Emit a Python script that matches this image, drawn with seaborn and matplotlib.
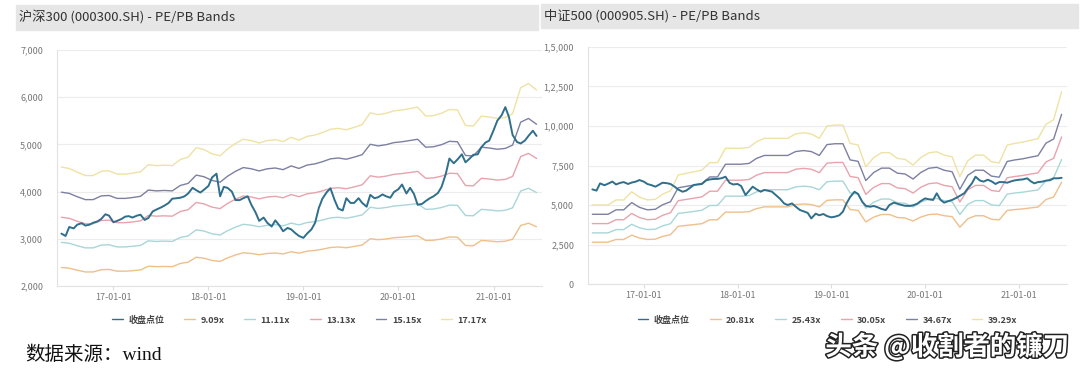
import matplotlib
matplotlib.use("Agg")
import matplotlib.pyplot as plt
import matplotlib.patheffects as pe
import seaborn as sns
import pandas as pd

# semi-monthly close, monthly bands, Jun 2016 - Jun 2021
close_dates = pd.date_range('2016-06-15', periods=121, freq='SMS')
band_dates = pd.date_range('2016-06-01', periods=61, freq='MS') + pd.Timedelta(days=14)

hs300_close = [
    3110, 3060, 3250, 3220, 3300, 3330, 3280, 3300, 3340, 3370, 3420, 3520,
    3490, 3350, 3380, 3420, 3470, 3480, 3450, 3490, 3510, 3400, 3440, 3580,
    3620, 3660, 3700, 3760, 3850, 3860, 3870, 3900, 3960, 4080, 4030, 3980,
    4040, 4120, 4300, 4380, 3900, 4100, 4080, 4000, 3820, 3820, 3860, 3900,
    3720, 3560, 3380, 3450, 3340, 3260, 3390, 3280, 3160, 3230, 3200, 3120,
    3060, 3020, 3110, 3200, 3340, 3650, 3850, 3990, 4070, 3820, 3640, 3600,
    3860, 3760, 3760, 3860, 3760, 3680, 3930, 3860, 3880, 3940, 3900, 3870,
    3990, 4050, 4150, 3960, 4080, 3950, 3720, 3740, 3800, 3860, 3900, 3970,
    4100, 4370, 4700, 4600, 4680, 4790, 4620, 4700, 4780, 4790, 4940, 5040,
    5080, 5300, 5500, 5620, 5790, 5580, 5200, 5050, 5020, 5080, 5180, 5290,
    5180,
]
hs300_909 = [
    2393, 2377, 2335, 2298, 2298, 2345, 2351, 2314, 2314, 2324, 2340, 2419,
    2409, 2414, 2409, 2478, 2504, 2610, 2589, 2541, 2520, 2594, 2658, 2705,
    2689, 2663, 2689, 2700, 2679, 2726, 2695, 2737, 2753, 2779, 2816, 2827,
    2811, 2838, 2869, 3002, 2981, 2996, 3023, 3033, 3049, 3065, 2965, 2970,
    2996, 3039, 3033, 2859, 2853, 2965, 2954, 2938, 2949, 2991, 3282, 3330,
    3256,
]
hs300_1111 = [
    2925, 2905, 2854, 2808, 2808, 2867, 2873, 2828, 2828, 2841, 2860, 2957,
    2944, 2951, 2944, 3028, 3061, 3190, 3164, 3106, 3080, 3171, 3248, 3307,
    3287, 3255, 3287, 3300, 3274, 3333, 3294, 3345, 3365, 3397, 3443, 3456,
    3436, 3468, 3507, 3669, 3643, 3663, 3695, 3708, 3727, 3747, 3624, 3630,
    3663, 3714, 3708, 3494, 3488, 3624, 3611, 3591, 3604, 3656, 4012, 4070,
    3980,
]
hs300_1313 = [
    3456, 3434, 3372, 3319, 3319, 3388, 3395, 3342, 3342, 3357, 3380, 3495,
    3479, 3487, 3479, 3579, 3617, 3770, 3739, 3671, 3640, 3747, 3839, 3908,
    3885, 3846, 3885, 3900, 3869, 3938, 3892, 3953, 3976, 4015, 4068, 4083,
    4061, 4099, 4145, 4336, 4305, 4328, 4366, 4382, 4405, 4428, 4282, 4290,
    4328, 4389, 4382, 4129, 4122, 4282, 4267, 4244, 4259, 4321, 4741, 4810,
    4703,
]
hs300_1515 = [
    3988, 3962, 3891, 3830, 3830, 3909, 3918, 3856, 3856, 3874, 3900, 4033,
    4015, 4024, 4015, 4130, 4174, 4350, 4315, 4236, 4200, 4324, 4430, 4509,
    4483, 4438, 4483, 4500, 4465, 4544, 4491, 4562, 4588, 4633, 4694, 4712,
    4686, 4730, 4783, 5003, 4968, 4994, 5038, 5056, 5083, 5109, 4941, 4950,
    4994, 5065, 5056, 4765, 4756, 4941, 4924, 4897, 4915, 4985, 5471, 5550,
    5427,
]
hs300_1717 = [
    4520, 4490, 4410, 4340, 4340, 4430, 4440, 4370, 4370, 4390, 4420, 4570,
    4550, 4560, 4550, 4680, 4730, 4930, 4890, 4800, 4760, 4900, 5020, 5110,
    5080, 5030, 5080, 5100, 5060, 5150, 5090, 5170, 5200, 5250, 5320, 5340,
    5310, 5360, 5420, 5670, 5630, 5660, 5710, 5730, 5760, 5790, 5600, 5610,
    5660, 5740, 5730, 5400, 5390, 5600, 5580, 5550, 5570, 5650, 6200, 6290,
    6150,
]

zz500_close = [
    5990, 5910, 6370, 6250, 6350, 6480, 6300, 6400, 6450, 6330, 6420, 6480,
    6580, 6480, 6330, 6250, 6160, 6280, 6410, 6380, 6330, 6160, 5980, 5840,
    5910, 6100, 6270, 6300, 6330, 6560, 6620, 6650, 6650, 6700, 6790, 6400,
    6300, 6330, 6200, 5630, 5900, 6160, 6000, 5840, 5950, 5900, 5840, 5600,
    5400, 5100, 5000, 5100, 4900, 4680, 4600, 4500, 4150, 4450, 4350, 4430,
    4300, 4220, 4260, 4350, 4580, 5100, 5500, 5840, 5700, 5210, 4950, 4890,
    4940, 4850, 4750, 4680, 5000, 5150, 5080, 5000, 4950, 4940, 4980, 5080,
    5250, 5420, 5360, 5320, 5740, 5320, 5150, 5250, 5320, 5450, 5580, 5740,
    6050, 6370, 6790, 6550, 6480, 6600, 6500, 6330, 6450, 6450, 6410, 6500,
    6560, 6600, 6620, 6690, 6500, 6370, 6450, 6480, 6540, 6570, 6690, 6690,
    6720,
]
zz500_2081 = [
    2647, 2647, 2647, 2816, 2816, 3092, 2912, 2816, 2838, 3007, 3123, 3653,
    3706, 3759, 3817, 4066, 4066, 4548, 4548, 4548, 4579, 4765, 4881, 4881,
    4881, 4881, 5029, 5066, 5029, 4881, 5294, 5326, 5326, 4712, 4659, 3928,
    4235, 4399, 4399, 4209, 4177, 3986, 4235, 4394, 4431, 4320, 4262, 3595,
    4129, 4320, 4320, 4098, 4055, 4653, 4712, 4754, 4818, 4870, 5347, 5506,
    6443,
]
zz500_2543 = [
    3236, 3236, 3236, 3443, 3443, 3779, 3559, 3443, 3468, 3676, 3818, 4465,
    4530, 4594, 4666, 4970, 4970, 5559, 5559, 5559, 5597, 5824, 5966, 5966,
    5966, 5966, 6147, 6193, 6147, 5966, 6471, 6510, 6510, 5759, 5694, 4801,
    5177, 5377, 5377, 5144, 5106, 4873, 5177, 5371, 5416, 5280, 5209, 4394,
    5047, 5280, 5280, 5009, 4957, 5688, 5759, 5811, 5889, 5953, 6536, 6730,
    7875,
]
zz500_3005 = [
    3824, 3824, 3824, 4068, 4068, 4466, 4206, 4068, 4099, 4343, 4512, 5276,
    5353, 5429, 5514, 5873, 5873, 6569, 6569, 6569, 6615, 6882, 7051, 7051,
    7051, 7051, 7265, 7318, 7265, 7051, 7647, 7693, 7693, 6806, 6729, 5674,
    6118, 6355, 6355, 6079, 6034, 5758, 6118, 6347, 6401, 6240, 6156, 5192,
    5965, 6240, 6240, 5919, 5858, 6722, 6806, 6867, 6959, 7035, 7723, 7953,
    9306,
]
zz500_3467 = [
    4412, 4412, 4412, 4694, 4694, 5153, 4853, 4694, 4730, 5012, 5206, 6089,
    6177, 6265, 6362, 6777, 6777, 7580, 7580, 7580, 7633, 7942, 8136, 8136,
    8136, 8136, 8383, 8445, 8383, 8136, 8824, 8877, 8877, 7853, 7765, 6547,
    7059, 7333, 7333, 7015, 6962, 6644, 7059, 7324, 7386, 7200, 7103, 5991,
    6883, 7200, 7200, 6830, 6759, 7756, 7853, 7924, 8030, 8118, 8912, 9177,
    10739,
]
zz500_3929 = [
    5000, 5000, 5000, 5320, 5320, 5840, 5500, 5320, 5360, 5680, 5900, 6900,
    7000, 7100, 7210, 7680, 7680, 8590, 8590, 8590, 8650, 9000, 9220, 9220,
    9220, 9220, 9500, 9570, 9500, 9220, 10000, 10060, 10060, 8900, 8800, 7420,
    8000, 8310, 8310, 7950, 7890, 7530, 8000, 8300, 8370, 8160, 8050, 6790,
    7800, 8160, 8160, 7740, 7660, 8790, 8900, 8980, 9100, 9200, 10100, 10400,
    12170,
]

hs300_bands = {'9.09x': hs300_909, '11.11x': hs300_1111, '13.13x': hs300_1313,
               '15.15x': hs300_1515, '17.17x': hs300_1717}
zz500_bands = {'20.81x': zz500_2081, '25.43x': zz500_2543, '30.05x': zz500_3005,
               '34.67x': zz500_3467, '39.29x': zz500_3929}

hs300_yticks = [2000, 3000, 4000, 5000, 6000, 7000]
hs300_ylabels = ['2,000', '3,000', '4,000', '5,000', '6,000', '7,000']
zz500_yticks = [0, 2500, 5000, 7500, 10000, 12500, 15000]
zz500_ylabels = ['0', '2,500', '5,000', '7,500', '1,0,000', '1,2,500', '1,5,000']
year_ticks = ['2017-01-01', '2018-01-01', '2019-01-01', '2020-01-01', '2021-01-01']
year_labels = ['17-01-01', '18-01-01', '19-01-01', '20-01-01', '21-01-01']

close_color = '#2f6f8c'
band_colors = ['#efbf8c', '#a9d6d8', '#e8a3ad', '#7c80a2', '#eee2a4']

sns.set_style('white')
plt.rcParams['font.family'] = ['Noto Sans CJK SC', 'DejaVu Sans']

fig = plt.figure(figsize=(10.8, 3.76), dpi=100)
W, H = 1080.0, 376.0


def px_axes(x0, y0, x1, y1):
    return fig.add_axes([x0 / W, 1 - y1 / H, (x1 - x0) / W, (y1 - y0) / H])


def title_bar(x0, y0, x1, y1, text):
    fig.patches.append(plt.Rectangle((x0 / W, 1 - y1 / H), (x1 - x0) / W, (y1 - y0) / H,
                                     transform=fig.transFigure, color='#e6e6e6', zorder=0))
    fig.text((x0 + 3) / W, 1 - (y0 + y1) / 2 / H, text, fontsize=9.5, color='#333333',
             va='center', ha='left')


def draw_panel(ax, close, bands, yticks, ylabels, leg_y):
    sns.lineplot(x=close_dates, y=close, ax=ax, color=close_color, linewidth=1.4,
                 label='收盘点位', zorder=5)
    for (name, vals), c in zip(bands.items(), band_colors):
        sns.lineplot(x=band_dates, y=vals, ax=ax, color=c, linewidth=1.0, label=name)
    ax.set_xlim(pd.Timestamp('2016-05-29'), pd.Timestamp('2021-07-06'))
    ax.set_ylim(yticks[0], yticks[-1])
    ax.set_yticks(yticks)
    ax.set_yticklabels(ylabels)
    ax.set_xticks(pd.to_datetime(year_ticks))
    ax.set_xticklabels(year_labels)
    ax.grid(axis='y', color='#ececec', linewidth=0.8)
    ax.grid(axis='x', visible=False)
    for s in ['top', 'right']:
        ax.spines[s].set_visible(False)
    for s in ['left', 'bottom']:
        ax.spines[s].set_color('#e2e2e2')
        ax.spines[s].set_linewidth(0.8)
    ax.tick_params(axis='y', length=0, pad=10, labelsize=6.5, labelcolor='#777777')
    ax.tick_params(axis='x', length=3, color='#dddddd', pad=2, labelsize=6.5,
                   labelcolor='#777777', bottom=True)
    ax.set_xlabel('')
    ax.set_ylabel('')
    leg = ax.legend(loc='center', bbox_to_anchor=(0.5, leg_y), ncol=6, frameon=False,
                    handlelength=1.2, columnspacing=2.2, handletextpad=0.6,
                    borderaxespad=0, borderpad=0, prop={'size': 6.5, 'weight': 'bold'})
    for t in leg.get_texts():
        t.set_color('#444444')
    for h in leg.get_lines():
        h.set_linewidth(1.0)


title_bar(16, 5, 538, 30, '沪深300 (000300.SH) - PE/PB Bands')
title_bar(541, 4, 1078, 28, '中证500 (000905.SH) - PE/PB Bands')

ax1 = px_axes(57, 50, 542, 286)
draw_panel(ax1, hs300_close, hs300_bands, hs300_yticks, hs300_ylabels, -34 / 236)

ax2 = px_axes(588, 47, 1067, 284)
draw_panel(ax2, zz500_close, zz500_bands, zz500_yticks, zz500_ylabels, -36 / 237)

fig.text(25 / W, 1 - 355 / H, '数据来源：wind', fontsize=14,
         family=['Liberation Serif', 'Noto Sans CJK SC'], color='#111111',
         va='center', ha='left')
fig.text(1069 / W, 1 - 347 / H, '头条 @收割者的镰刀', fontsize=19, color='white',
         weight='bold', va='center', ha='right',
         path_effects=[pe.withStroke(linewidth=2.2, foreground='#222222')])

fig.savefig('out.png', dpi=100)
